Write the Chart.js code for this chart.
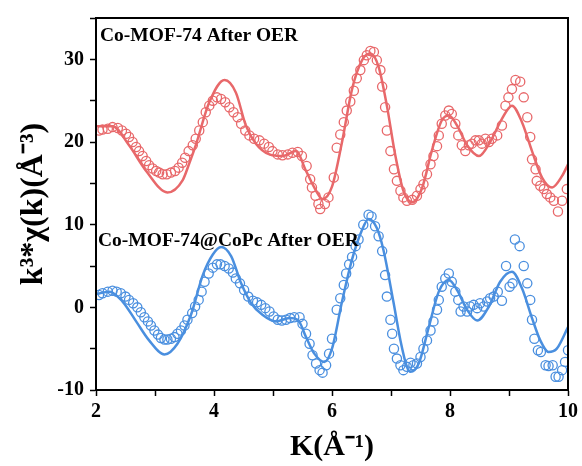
<!DOCTYPE html>
<html>
<head>
<meta charset="utf-8">
<script src="https://cdn.jsdelivr.net/npm/chart.js@4.4.1/dist/chart.umd.min.js"></script>
<style>
  html, body { margin: 0; padding: 0; background: #ffffff; }
  #wrap { width: 582px; height: 466px; }
</style>
</head>
<body>
<div id="wrap"><canvas id="c" width="582" height="466"></canvas></div>
<script>
// ---- data ----
const seriesNames = ["Co-MOF-74 After OER", "Co-MOF-74@CoPc After OER"];
const xTickValues = [2, 4, 6, 8, 10];
const yTickValues = [-10, 0, 10, 20, 30];

const redFitK = [2.0,2.28,2.56,2.85,3.21,3.47,3.58,3.69,3.92,4.18,4.37,4.54,4.71,4.94,5.16,5.39,5.56,5.73,5.84,6.0,6.17,6.34,6.51,6.65,6.79,6.93,7.07,7.21,7.36,7.53,7.69,7.86,7.98,8.12,8.29,8.49,8.68,8.88,9.05,9.22,9.39,9.56,9.73,9.9,10.0];
const redFitV = [21.9,21.9,19.6,16.5,13.9,15.4,17.4,19.6,24.8,27.5,26.0,22.0,19.8,18.5,18.3,18.9,16.5,14.1,13.1,14.6,20.0,26.4,29.9,30.7,29.1,24.4,18.5,14.1,12.7,14.5,18.9,22.6,23.2,22.0,19.6,18.3,20.0,22.8,24.4,22.4,18.9,15.7,14.5,15.9,17.3];

const redDataK = [2.05,2.11,2.20,2.28,2.37,2.44,2.51,2.56,2.62,2.68,2.73,2.79,2.85,2.90,2.96,3.02,3.07,3.13,3.20,3.27,3.34,3.40,3.46,3.51,3.57,3.64,3.69,3.75,3.81,3.86,3.92,3.98,4.05,4.12,4.19,4.26,4.33,4.40,4.46,4.53,4.60,4.68,4.77,4.85,4.93,4.99,5.08,5.16,5.25,5.33,5.42,5.49,5.57,5.63,5.66,5.72,5.77,5.80,5.88,5.94,6.03,6.08,6.14,6.20,6.25,6.31,6.37,6.42,6.48,6.54,6.59,6.65,6.71,6.76,6.82,6.85,6.90,6.93,6.99,7.05,7.10,7.16,7.21,7.27,7.36,7.44,7.50,7.55,7.61,7.67,7.72,7.78,7.81,7.86,7.92,7.98,8.03,8.09,8.14,8.20,8.26,8.32,8.37,8.43,8.49,8.54,8.60,8.66,8.71,8.80,8.88,8.94,8.99,9.05,9.11,9.19,9.25,9.31,9.36,9.39,9.45,9.47,9.53,9.59,9.64,9.70,9.76,9.83,9.90,9.98];
const redDataV = [21.4,21.5,21.6,21.8,21.7,21.4,21.0,20.6,20.0,19.4,18.9,18.3,17.7,17.2,16.8,16.5,16.3,16.1,16.1,16.3,16.5,16.9,17.5,18.1,18.9,19.6,20.4,21.4,22.4,23.6,24.4,25.0,25.4,25.2,24.8,24.2,23.6,23.0,22.2,21.4,20.8,20.4,20.2,19.8,19.4,18.9,18.5,18.4,18.5,18.7,18.8,18.3,17.1,15.5,14.5,13.5,12.5,11.9,12.5,13.3,15.7,19.3,20.9,22.4,23.8,24.9,26.2,27.7,28.7,29.9,30.5,31.0,30.9,29.9,28.7,26.7,24.2,21.4,18.9,16.7,15.3,14.1,13.3,12.9,13.0,13.5,14.3,14.9,16.1,17.3,18.3,19.5,20.8,22.2,23.2,23.8,23.4,22.2,20.8,19.6,18.9,19.6,19.8,20.2,20.2,19.8,20.4,20.0,20.4,20.8,22.0,24.4,25.4,26.4,27.5,27.3,25.4,23.0,20.6,17.9,16.7,15.3,14.7,14.3,13.7,13.3,12.9,11.6,12.9,14.3];

const blueFitK = [2.0,2.23,2.45,2.68,2.9,3.16,3.38,3.61,3.81,3.98,4.12,4.29,4.46,4.63,4.82,5.05,5.28,5.42,5.56,5.7,5.87,6.0,6.17,6.34,6.5,6.62,6.76,6.87,7.04,7.16,7.27,7.33,7.47,7.64,7.81,7.98,8.12,8.29,8.46,8.66,8.85,9.05,9.22,9.39,9.53,9.67,9.81,10.0];
const blueFitV = [1.6,1.9,0.7,-1.7,-4.0,-5.7,-4.4,-0.9,3.9,6.4,7.3,6.2,2.9,0.5,-0.9,-1.7,-1.3,-1.5,-3.6,-5.6,-6.6,-5.0,0.7,5.8,9.2,10.7,9.6,7.0,0.7,-4.0,-7.2,-7.8,-6.8,-2.4,1.9,3.3,2.1,-0.3,-1.6,0.1,3.1,4.3,2.3,-1.3,-4.0,-5.4,-5.0,-2.4];

const blueDataK = [2.05,2.11,2.20,2.28,2.35,2.42,2.50,2.56,2.63,2.70,2.76,2.82,2.88,2.93,2.99,3.05,3.10,3.16,3.21,3.27,3.33,3.38,3.44,3.50,3.55,3.63,3.68,3.74,3.79,3.84,3.91,3.98,4.05,4.11,4.18,4.25,4.32,4.37,4.44,4.51,4.58,4.66,4.73,4.80,4.87,4.94,5.01,5.08,5.15,5.22,5.29,5.36,5.45,5.50,5.56,5.62,5.67,5.73,5.79,5.84,5.90,5.95,6.00,6.08,6.14,6.20,6.24,6.29,6.34,6.40,6.45,6.53,6.62,6.67,6.73,6.79,6.85,6.90,6.93,6.99,7.02,7.05,7.10,7.16,7.21,7.27,7.33,7.38,7.44,7.50,7.55,7.61,7.67,7.72,7.78,7.81,7.86,7.92,7.98,8.03,8.09,8.14,8.18,8.23,8.29,8.34,8.40,8.46,8.51,8.57,8.63,8.68,8.74,8.81,8.88,8.95,9.01,9.06,9.10,9.18,9.25,9.31,9.36,9.39,9.43,9.49,9.54,9.62,9.67,9.74,9.79,9.84,9.90,9.95,10.0];
const blueDataV = [1.5,1.7,1.9,2.0,1.9,1.7,1.3,0.9,0.5,0.0,-0.6,-1.2,-1.7,-2.2,-2.8,-3.3,-3.7,-3.9,-3.9,-3.8,-3.6,-3.2,-2.8,-2.2,-1.5,-0.7,0.1,0.9,1.9,3.1,4.1,4.8,5.2,5.2,5.0,4.7,4.2,3.5,2.9,2.1,1.3,0.8,0.6,0.3,-0.1,-0.5,-1.1,-1.5,-1.6,-1.5,-1.3,-1.2,-1.2,-2.0,-3.2,-4.4,-5.8,-6.8,-7.6,-7.9,-7.0,-5.6,-3.8,-0.3,1.1,2.7,4.1,5.2,6.1,7.4,8.2,10.0,11.2,11.0,9.8,8.6,6.8,3.9,1.3,-1.5,-3.2,-5.0,-6.2,-7.0,-7.6,-7.2,-6.7,-7.0,-6.8,-6.0,-5.0,-4.0,-2.8,-1.7,-0.3,0.9,2.5,3.5,4.1,3.1,1.9,0.9,-0.5,0.1,-0.5,0.1,0.3,-0.1,0.5,0.1,0.7,1.1,1.3,1.9,0.8,5.0,2.5,2.9,8.2,7.4,5.0,2.9,0.9,-1.5,-3.8,-5.2,-5.4,-7.0,-7.1,-7.0,-8.4,-8.4,-7.6,-6.6,-5.2];

// ---- styles ----
const RED = '#e8686a';
const BLUE = '#4a8fdf';
const SERIF = '"Liberation Serif", "Times New Roman", serif';

function pts(ks, vs) { return ks.map((k, i) => ({ x: k, y: vs[i] })); }

const frameAndLabels = {
  id: 'frameAndLabels',
  afterDatasetsDraw(chart) {
    const { ctx, chartArea: a } = chart;
    ctx.save();
    ctx.strokeStyle = '#000';
    ctx.lineWidth = 2;
    ctx.strokeRect(a.left, a.top, a.right - a.left, a.bottom - a.top);
    ctx.fillStyle = '#000';
    ctx.font = 'bold 19.5px ' + SERIF;
    ctx.textBaseline = 'middle';
    ctx.textAlign = 'left';
    ctx.fillText(seriesNames[0], a.left + 4, a.top + 18);
    ctx.fillText(seriesNames[1], a.left + 2, a.top + 223);
    ctx.restore();
  }
};

new Chart(document.getElementById('c'), {
  type: 'scatter',
  data: {
    datasets: [
      { label: seriesNames[0] + ' fit', data: pts(redFitK, redFitV), showLine: true, borderColor: RED, borderWidth: 2.5, pointRadius: 0, cubicInterpolationMode: 'monotone', fill: false },
      { label: seriesNames[0], data: pts(redDataK, redDataV), showLine: false, pointRadius: 4.6, pointBorderWidth: 1.3, pointBorderColor: RED, pointBackgroundColor: 'rgba(0,0,0,0)' },
      { label: seriesNames[1] + ' fit', data: pts(blueFitK, blueFitV), showLine: true, borderColor: BLUE, borderWidth: 2.5, pointRadius: 0, cubicInterpolationMode: 'monotone', fill: false },
      { label: seriesNames[1], data: pts(blueDataK, blueDataV), showLine: false, pointRadius: 4.6, pointBorderWidth: 1.3, pointBorderColor: BLUE, pointBackgroundColor: 'rgba(0,0,0,0)' }
    ]
  },
  options: {
    responsive: false,
    animation: false,
    layout: { padding: { left: 0, right: 14, top: 10, bottom: 0 } },
    plugins: { legend: { display: false }, tooltip: { enabled: false } },
    scales: {
      x: {
        type: 'linear', min: 2, max: 10,
        afterFit(s) { s.height = 76; },
        grid: { drawOnChartArea: false, drawTicks: true, tickLength: 6, tickColor: '#000', tickWidth: 1.5 },
        border: { display: true, color: '#000', width: 2 },
        ticks: {
          stepSize: 1, autoSkip: false, maxRotation: 0, padding: 4, color: '#000',
          font: { family: SERIF, size: 20, weight: 'bold' },
          callback: (v) => xTickValues.includes(v) ? String(v) : ''
        },
        title: { display: true, text: 'K(Å⁻¹)', color: '#000', font: { family: SERIF, size: 30, weight: 'bold' }, padding: { top: 0, bottom: 1 } }
      },
      y: {
        type: 'linear', min: -10, max: 35,
        afterFit(s) { s.width = 96; },
        grid: { drawOnChartArea: false, drawTicks: true, tickLength: 6, tickColor: '#000', tickWidth: 1.5 },
        border: { display: true, color: '#000', width: 2 },
        ticks: {
          stepSize: 5, autoSkip: false, padding: 6, color: '#000',
          font: { family: SERIF, size: 20, weight: 'bold' },
          callback: (v) => yTickValues.includes(v) ? String(v) : ''
        },
        title: { display: true, text: 'k³*χ(k)(Å⁻³)', color: '#000', font: { family: SERIF, size: 32, weight: 'bold' }, padding: { top: 15, bottom: 0 } }
      }
    }
  },
  plugins: [frameAndLabels]
});
</script>
</body>
</html>
